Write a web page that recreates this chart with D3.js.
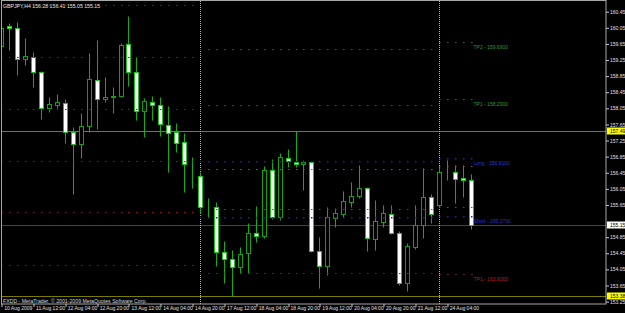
<!DOCTYPE html>
<html>
<head>
<meta charset="utf-8">
<script src="https://cdnjs.cloudflare.com/ajax/libs/d3/7.8.5/d3.min.js"></script>
<style>
body { margin: 0; background: #000; }
svg text { font-family: "Liberation Sans", Arial, sans-serif; }
</style>
</head>
<body>
<div id="chart"></div>
<script>
// GBPJPY H4, 10 Aug 2009 20:00 .. 24 Aug 2009 16:00
var symbol = "GBPJPY,H4";

var times = [
    "10 Aug 20:00",
    "11 Aug 00:00", "11 Aug 04:00", "11 Aug 08:00", "11 Aug 12:00", "11 Aug 16:00", "11 Aug 20:00",
    "12 Aug 00:00", "12 Aug 04:00", "12 Aug 08:00", "12 Aug 12:00", "12 Aug 16:00", "12 Aug 20:00",
    "13 Aug 00:00", "13 Aug 04:00", "13 Aug 08:00", "13 Aug 12:00", "13 Aug 16:00", "13 Aug 20:00",
    "14 Aug 00:00", "14 Aug 04:00", "14 Aug 08:00", "14 Aug 12:00", "14 Aug 16:00", "14 Aug 20:00",
    "17 Aug 00:00", "17 Aug 04:00", "17 Aug 08:00", "17 Aug 12:00", "17 Aug 16:00", "17 Aug 20:00",
    "18 Aug 00:00", "18 Aug 04:00", "18 Aug 08:00", "18 Aug 12:00", "18 Aug 16:00", "18 Aug 20:00",
    "19 Aug 00:00", "19 Aug 04:00", "19 Aug 08:00", "19 Aug 12:00", "19 Aug 16:00", "19 Aug 20:00",
    "20 Aug 00:00", "20 Aug 04:00", "20 Aug 08:00", "20 Aug 12:00", "20 Aug 16:00", "20 Aug 20:00",
    "21 Aug 00:00", "21 Aug 04:00", "21 Aug 08:00", "21 Aug 12:00", "21 Aug 16:00", "21 Aug 20:00",
    "24 Aug 00:00", "24 Aug 04:00", "24 Aug 08:00", "24 Aug 12:00", "24 Aug 16:00"
];

var open = [159.60, 160.09, 160.05, 159.28, 159.33, 158.95, 158.06, 158.13, 158.18, 157.46,
            157.16, 157.61, 158.75, 158.28, 158.34, 158.36, 159.65, 158.95, 157.98, 158.21,
            158.13, 157.64, 157.46, 157.21, 156.68, 156.37, 155.60, 155.60, 154.48, 154.31,
            154.11, 154.46, 154.95, 154.88, 156.52, 155.35, 156.82, 156.72, 156.67, 156.72,
            154.51, 154.13, 155.32, 155.42, 155.72, 155.87, 156.07, 154.80, 155.22, 155.42,
            154.95, 153.71, 154.60, 155.15, 155.85, 155.65, 156.47, 156.47, 156.32, 156.28];
var high = [160.12, 160.17, 160.19, 159.80, 159.45, 158.97, 158.33, 158.41, 158.28, 157.59,
            157.93, 159.42, 159.75, 158.83, 158.58, 159.67, 160.34, 159.33, 158.30, 158.36,
            158.33, 158.11, 157.69, 157.44, 156.84, 156.47, 155.82, 155.72, 154.75, 154.53,
            154.60, 155.20, 155.62, 156.62, 156.79, 156.94, 157.04, 157.49, 156.77, 156.74,
            154.85, 155.60, 155.57, 156.00, 156.22, 156.64, 156.10, 155.77, 155.65, 155.65,
            155.00, 154.70, 155.65, 156.57, 155.92, 156.59, 156.77, 156.64, 156.64, 156.41];
var low = [159.52, 159.50, 158.88, 159.13, 158.58, 157.78, 157.96, 158.06, 157.19, 155.92,
           156.82, 157.46, 157.54, 158.21, 157.93, 158.33, 158.60, 157.76, 157.34, 157.76,
           157.36, 156.47, 156.97, 155.97, 156.07, 155.45, 155.35, 154.13, 153.71, 153.38,
           153.96, 153.96, 154.73, 154.83, 155.30, 155.27, 156.59, 156.59, 156.02, 154.48,
           153.59, 153.91, 155.10, 155.35, 155.60, 155.82, 154.51, 154.53, 155.10, 154.93,
           153.65, 153.51, 154.56, 154.83, 155.20, 155.60, 156.27, 155.70, 155.85, 155.05];
var close = [160.05, 160.05, 159.28, 159.35, 158.95, 158.06, 158.16, 158.21, 157.46, 157.16,
             157.61, 158.78, 158.28, 158.33, 158.36, 159.62, 158.95, 157.98, 158.23, 158.13,
             157.66, 157.44, 157.19, 156.67, 156.69, 155.60, 155.61, 154.48, 154.31, 154.11,
             154.43, 154.95, 154.88, 156.52, 155.35, 156.84, 156.74, 156.67, 156.72, 154.51,
             154.13, 155.35, 155.45, 155.75, 155.87, 156.07, 154.83, 155.25, 155.45, 154.95,
             153.71, 154.63, 155.15, 155.85, 155.42, 156.47, 156.48, 156.30, 156.27, 155.15];

// week ranges for the level indicator (first bar of each week block)
var weekStarts = ["10 Aug 20:00", "17 Aug 00:00", "24 Aug 00:00"];
var weekEnds = ["14 Aug 20:00", "21 Aug 20:00", "24 Aug 16:00"];
var separators = ["17 Aug 00:00", "24 Aug 00:00"];

// level indicator values per week block
var levelKinds = ["tp", "tp", "entry", "stop", "stop2", "entry", "tps"];
var levelsPrev = [160.62, 159.33, 158.03, 156.74, 155.48, 154.16];
var levelsWeek17 = [159.52, 158.13, 156.74, 156.54, 155.55, 155.35, 153.96];
var levelsWeek24 = [159.69, 158.29, 156.81, 156.61, 155.60, 155.37, 153.93];
var levelTexts = ["TP2", "TP1", "Long", null, null, "Short", "TP1"];

// weekly high / low and current bid
var weekHighLow = [157.49, 153.38];
var bid = 155.15;

var priceTicks = ["160.45", "160.05", "159.65", "159.25", "158.85", "158.45", "158.05", "157.65",
                  "157.25", "156.85", "156.45", "156.05", "155.65", "155.25", "154.85", "154.45",
                  "154.05", "153.65", "153.25"];
var timeTicks = ["10 Aug 20:00", "11 Aug 12:00", "12 Aug 04:00", "12 Aug 20:00", "13 Aug 12:00",
                 "14 Aug 04:00", "14 Aug 20:00", "17 Aug 12:00", "18 Aug 04:00", "18 Aug 20:00",
                 "19 Aug 12:00", "20 Aug 04:00", "20 Aug 20:00", "21 Aug 12:00", "24 Aug 04:00"];
var timeTickLabels = ["10 Aug 2009", "11 Aug 12:00", "12 Aug 04:00", "12 Aug 20:00", "13 Aug 12:00",
                      "14 Aug 04:00", "14 Aug 20:00", "17 Aug 12:00", "18 Aug 04:00", "18 Aug 20:00",
                      "19 Aug 12:00", "20 Aug 04:00", "20 Aug 20:00", "21 Aug 12:00", "24 Aug 04:00"];

var W = 625, H = 313;
var plot = {left: 2, top: 1, right: 606, bottom: 304};

var svg = d3.select("#chart").append("svg")
    .attr("width", W)
    .attr("height", H)
    .style("display", "block")
    .style("background", "#000");

var x = d3.scaleLinear()
    .domain([0, times.length - 1])
    .range([1.7, 471]);
var y = d3.scaleLinear()
    .domain([153.25, 160.45])
    .range([301.6, 11.7]);

function bx(t) {
    return Math.floor(x(times.indexOf(t))) + 0.5;
}
function py(p) {
    return Math.round(y(p)) + 0.5;
}

var bars = times.map(function(t, i) {
    return {t: t, o: open[i], h: high[i], l: low[i], c: close[i]};
});

svg.append("defs").append("clipPath").attr("id", "clip")
    .append("rect")
    .attr("x", plot.left).attr("y", plot.top)
    .attr("width", plot.right - plot.left)
    .attr("height", plot.bottom - plot.top);

var g = svg.append("g").attr("clip-path", "url(#clip)");

// weekly high/low lines and bid line
g.selectAll(".hl")
    .data(weekHighLow)
    .enter().append("line")
    .attr("x1", plot.left).attr("x2", plot.right)
    .attr("y1", function(d) { return py(d); })
    .attr("y2", function(d) { return py(d); })
    .attr("stroke", "#7c7c00");

g.append("line")
    .attr("x1", plot.left).attr("x2", plot.right)
    .attr("y1", py(bid)).attr("y2", py(bid))
    .attr("stroke", "#3e4556");

// period separators
g.selectAll(".sep")
    .data(separators)
    .enter().append("line")
    .attr("x1", function(d) { return bx(d); })
    .attr("x2", function(d) { return bx(d); })
    .attr("y1", plot.top).attr("y2", plot.bottom)
    .attr("stroke", "#b4b4b4")
    .attr("stroke-dasharray", "1,1");

// candles
var wickColor = "#10b010";
var candle = g.selectAll(".candle")
    .data(bars)
    .enter().append("g");

candle.append("line")
    .attr("x1", function(d) { return bx(d.t); })
    .attr("x2", function(d) { return bx(d.t); })
    .attr("y1", function(d) { return py(d.h); })
    .attr("y2", function(d) { return py(d.l); })
    .attr("stroke", wickColor);

candle.append("rect")
    .attr("x", function(d) { return bx(d.t) - 2; })
    .attr("width", 4)
    .attr("y", function(d) { return py(Math.max(d.o, d.c)); })
    .attr("height", function(d) { return Math.max(0, py(Math.min(d.o, d.c)) - py(Math.max(d.o, d.c))); })
    .attr("fill", function(d) { return d.c < d.o ? "#ffffff" : "#000000"; })
    .attr("stroke", function(d) { return d.c < d.o ? "#14c814" : "#10a010"; });

// level indicator dots
var kindColor = {tp: "#1f7a1f", entry: "#1c28a8", stop: "#9a5a26", stop2: "#1f7a1f", tps: "#a01414"};
var blocks = [
    {from: weekStarts[0], to: weekEnds[0], levels: levelsPrev, prev: true},
    {from: weekStarts[1], to: weekEnds[1], levels: levelsWeek17, prev: false},
    {from: weekStarts[2], to: weekEnds[2], levels: levelsWeek24, prev: false}
];
var dots = [];
blocks.forEach(function(b) {
    var i0 = times.indexOf(b.from), i1 = times.indexOf(b.to);
    b.levels.forEach(function(v, k) {
        for (var i = i0; i <= i1; i++) {
            dots.push({t: times[i], v: v, kind: b.prev ? "tps" : levelKinds[k]});
        }
    });
});
g.selectAll(".dot")
    .data(dots)
    .enter().append("rect")
    .attr("x", function(d) { return bx(d.t) - 0.5; })
    .attr("y", function(d) { return py(d.v) - 0.5; })
    .attr("width", 1.5)
    .attr("height", function(d) { return d.kind == "entry" ? 1.5 : 1; })
    .attr("fill", function(d) { return kindColor[d.kind]; });

// level texts on the last week
var textColor = {tp: "#2f9a2f", entry: "#2838c8", tps: "#c01c1c"};
var lastBar = times[times.length - 1];
g.selectAll(".lvtext")
    .data(levelsWeek24.map(function(v, k) { return {v: v, name: levelTexts[k], kind: levelKinds[k]}; })
        .filter(function(d) { return d.name; }))
    .enter().append("text")
    .attr("x", bx(lastBar) + 2)
    .attr("y", function(d) { return py(d.v) + 6; })
    .attr("font-size", "5px")
    .attr("fill", function(d) { return textColor[d.kind]; })
    .text(function(d) { return d.name + " - " + d.v.toFixed(4); });

// title and copyright
var last = bars[bars.length - 1];
svg.append("text")
    .attr("x", 3).attr("y", 8)
    .attr("font-size", "5.2px")
    .attr("fill", "#e6e6e6")
    .text(symbol + " " + [last.o, last.h, last.l, last.c].map(function(v) { return v.toFixed(2); }).join(" "));

svg.append("text")
    .attr("x", 3).attr("y", 303)
    .attr("font-size", "5.2px")
    .attr("fill", "#d8d8d8")
    .text("FXDD - MetaTrader, \u00a9 2001-2009 MetaQuotes Software Corp.");

// frame
svg.append("rect")
    .attr("x", 1.5).attr("y", 0.5)
    .attr("width", plot.right - 1.5)
    .attr("height", plot.bottom - 0.5)
    .attr("fill", "none")
    .attr("stroke", "#a8a8a8");

// price axis
var boxes = weekHighLow.concat([bid]);
var yAxis = d3.axisRight(y)
    .tickValues(priceTicks.map(Number).filter(function(v) {
        return boxes.every(function(b) { return Math.abs(y(v) - y(b)) > 5; });
    }))
    .tickSize(3)
    .tickFormat(function(d) { return d.toFixed(2); });
var ya = svg.append("g")
    .attr("transform", "translate(" + plot.right + ",0)")
    .call(yAxis);
ya.select(".domain").remove();
ya.selectAll("line").attr("stroke", "#c8c8c8");
ya.selectAll("text").attr("fill", "#e0e0e0").attr("font-size", "5px")
    .attr("font-family", "Liberation Sans, Arial, sans-serif").attr("x", 4);

var boxG = svg.selectAll(".pbox")
    .data(boxes)
    .enter().append("g")
    .attr("transform", function(d) { return "translate(" + (plot.right + 1) + "," + Math.round(y(d)) + ")"; });
boxG.append("rect")
    .attr("x", 0).attr("y", -3.5)
    .attr("width", W - plot.right).attr("height", 7)
    .attr("fill", function(d) { return d == bid ? "#ffffff" : "#ffff00"; });
boxG.append("text")
    .attr("x", 3).attr("y", 2)
    .attr("font-size", "5px")
    .attr("fill", "#000")
    .text(function(d) { return d.toFixed(2); });

// time axis
var xAxis = d3.axisBottom(x)
    .tickValues(timeTicks.map(function(t) { return times.indexOf(t); }))
    .tickSize(3)
    .tickFormat(function(d, i) { return timeTickLabels[i]; });
var xa = svg.append("g")
    .attr("transform", "translate(0," + plot.bottom + ")")
    .call(xAxis);
xa.select(".domain").remove();
xa.selectAll("line").attr("stroke", "#c8c8c8")
    .attr("transform", function(d) { return "translate(" + (Math.floor(x(d)) + 0.5 - x(d)) + ",0)"; });
xa.selectAll("text").attr("fill", "#e0e0e0").attr("font-size", "5px")
    .attr("font-family", "Liberation Sans, Arial, sans-serif")
    .attr("text-anchor", "start").attr("x", 2).attr("y", 2).attr("dy", "0.71em");
</script>
</body>
</html>
